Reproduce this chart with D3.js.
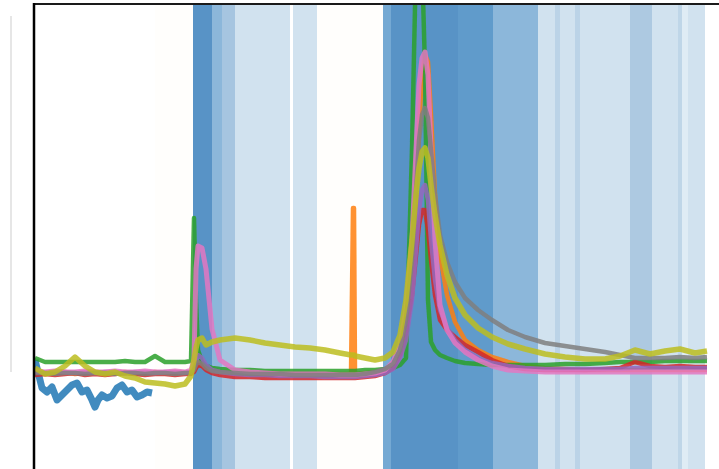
<!DOCTYPE html>
<html><head><meta charset="utf-8">
<script src="https://cdn.jsdelivr.net/npm/d3@7"></script>
<style>html,body{margin:0;padding:0;background:#fff;overflow:hidden}svg{display:block}</style>
</head><body>
<script>
// ---- data ----
const time = [0,10,20,30,40,50,60,70,80,90,100,110,120,130,140,150,
  156,159,161,163,167,171,177,185,
  200,215,230,245,260,275,290,305,
  316,318,319,320,
  330,340,350,358,
  365,371,377,381,384,387,390,393,396,400,405,412,420,430,443,457,473,490,
  510,530,550,570,585,600,615,630,645,660,672];

const blueTime = [0,3,7,12,17,22,27,32,37,42,47,52,57,60,63,67,72,77,82,87,92,97,102,107,112,117];
const blueVals = [0.9,-0.3,-1.9,-2.3,-1.8,-3.1,-2.6,-2.1,-1.6,-1.4,-2.3,-2.1,-3.1,-3.8,-3.1,-2.6,-2.9,-2.7,-1.9,-1.6,-2.3,-2.1,-2.8,-2.6,-2.3,-2.4];

const orangeVals = [-0.3,-0.5,-0.4,-0.3,-0.5,-0.4,-0.3,-0.5,-0.4,-0.3,-0.4,-0.5,-0.3,-0.4,-0.3,-0.4,
  -0.3,-0.1,0.3,0.7,0.4,0.1,-0.1,-0.3,
  -0.4,-0.4,-0.5,-0.5,-0.5,-0.5,-0.5,-0.5,
  -0.5,16.1,16.1,-0.5,
  -0.4,-0.3,-0.1,0.3,
  1.4,3.4,8.4,16.9,23.9,29.4,31.4,30.7,25.4,17.4,11.4,7.4,4.7,2.9,1.9,1.2,0.7,0.3,
  0.1,0,-0.1,-0.1,-0.1,-0.1,-0.1,-0.1,-0.1,-0.1,-0.1];

const greenVals = [1.1,0.7,0.7,0.7,0.7,0.7,0.7,0.7,0.7,0.8,0.7,0.7,1.3,0.7,0.7,0.7,
  0.8,15.1,6.9,1.9,0.7,0.3,0.1,0,
  -0.1,-0.1,-0.2,-0.2,-0.2,-0.2,-0.2,-0.2,
  -0.2,-0.2,-0.2,-0.2,
  -0.1,-0.1,0,0.1,
  0.4,1.1,22,40.9,40.9,40.9,30,6.9,2.7,1.9,1.4,1.1,0.8,0.6,0.5,0.4,0.4,0.4,
  0.4,0.5,0.5,0.6,0.7,0.7,0.7,0.8,0.8,0.8,0.8];

const redVals = [-0.6,-0.5,-0.6,-0.5,-0.4,-0.6,-0.5,-0.6,-0.5,-0.4,-0.5,-0.6,-0.5,-0.5,-0.6,-0.5,
  -0.5,-0.3,0.1,0.4,0.3,-0.1,-0.4,-0.6,
  -0.8,-0.8,-0.9,-0.9,-0.9,-0.9,-0.9,-0.9,
  -0.9,-0.9,-0.9,-0.9,
  -0.8,-0.7,-0.4,0.1,
  1.4,3.9,7.4,11.4,14.4,15.9,15.9,13.9,10.9,7.4,4.9,3.9,3.2,2.4,1.7,0.9,0.3,0,
  -0.1,-0.1,-0.1,0,0.1,0.7,0.3,0.2,0.3,0.2,0.2];

const purpleVals = [-0.3,-0.4,-0.3,-0.3,-0.4,-0.3,-0.4,-0.3,-0.3,-0.4,-0.3,-0.3,-0.4,-0.3,-0.3,-0.4,
  -0.3,0.1,0.9,1.4,1.1,0.4,-0.1,-0.3,
  -0.5,-0.6,-0.6,-0.7,-0.7,-0.7,-0.8,-0.8,
  -0.8,-0.8,-0.8,-0.8,
  -0.7,-0.6,-0.4,0,
  1.1,2.9,6.9,11.9,15.9,17.9,18.4,16.9,12.9,8.9,5.9,4.1,2.9,1.9,1.1,0.6,0.3,0.1,
  0,0,0,0,0,0.1,0.1,0.1,0.1,0.1,0.1];

const pinkVals = [-0.2,-0.3,-0.2,-0.3,-0.3,-0.2,-0.3,-0.3,-0.2,-0.3,-0.3,-0.2,-0.3,-0.3,-0.2,-0.3,
  -0.1,0.9,10.0,12.3,12.1,10.0,4.0,0.9,
  -0.1,-0.3,-0.4,-0.5,-0.5,-0.5,-0.5,-0.6,
  -0.6,-0.6,-0.6,-0.6,
  -0.5,-0.4,-0.1,0.7,
  2.4,5.9,12.9,21.9,28.4,31.1,31.7,29.4,21.9,12.9,6.4,3.9,2.6,1.7,0.9,0.3,-0.1,-0.2,
  -0.3,-0.3,-0.3,-0.3,-0.3,-0.3,-0.3,-0.3,-0.3,-0.3,-0.3];

const grayVals = [-0.4,-0.4,-0.5,-0.4,-0.4,-0.5,-0.4,-0.4,-0.5,-0.4,-0.4,-0.5,-0.4,-0.4,-0.5,-0.4,
  -0.4,-0.1,0.4,0.7,0.5,0.1,-0.2,-0.3,
  -0.4,-0.5,-0.5,-0.5,-0.6,-0.6,-0.6,-0.6,
  -0.6,-0.6,-0.6,-0.6,
  -0.5,-0.3,0,0.5,
  1.9,4.9,10.9,17.9,22.9,25.4,26.1,25.1,21.9,17.4,13.4,10.7,8.7,7.1,5.9,4.9,3.9,3.2,
  2.6,2.3,2.0,1.7,1.4,1.1,1.1,1.1,1.2,1.1,1.2];

const oliveVals = [0.1,-0.5,-0.3,0.3,1.2,0.3,-0.3,-0.5,-0.3,-0.7,-0.9,-1.3,-1.4,-1.5,-1.7,-1.5,
  -0.7,0.9,2.1,2.9,3.1,2.4,2.7,2.9,
  3.1,2.9,2.6,2.4,2.2,2.1,1.9,1.6,
  1.4,1.4,1.4,1.3,
  1.1,0.9,1.1,1.7,
  3.4,6.9,12.9,17.4,20.1,21.7,22.1,21.1,18.4,15.4,12.4,9.4,7.1,5.4,4.1,3.2,2.5,2.0,
  1.5,1.2,1.0,1.0,1.3,1.9,1.5,1.8,2.0,1.6,1.8];

// shaded event periods (start, end, intensity)
const bandStart = [158,177,187,200,258,348,356,423,458,503,520,525,540,545,595,617,643,647,653];
const bandEnd   = [177,187,200,255,282,356,423,458,503,520,525,540,545,595,617,643,647,653,670];
const bandLevel = [5,3,2.2,1,1,3.6,5,4.4,3,1,1.6,1,1.6,1,2,1,1.5,0.6,1];
const faintStart = [120,282];
const faintEnd   = [158,348];

// ---- drawing ----
const W = 719, H = 469;
const svg = d3.select("body").append("svg").attr("width", W).attr("height", H);
svg.append("rect").attr("width", W).attr("height", H).attr("fill", "#fff");

const x = d3.scaleLinear().domain([0, 700]).range([35, 735]);
const y = d3.scaleLinear().domain([-10, 36.5]).range([469, 4]);

const defs = svg.append("defs");
defs.append("clipPath").attr("id", "plot")
  .append("rect").attr("x", 35).attr("y", 5).attr("width", W - 35).attr("height", H - 5);
defs.append("filter").attr("id", "soft").attr("x", "-5%").attr("y", "-5%").attr("width", "110%").attr("height", "110%")
  .append("feGaussianBlur").attr("stdDeviation", 0.7);

const g = svg.append("g").attr("clip-path", "url(#plot)");

// faint bands
g.selectAll("rect.faint").data(faintStart.map((s, i) => [s, faintEnd[i]])).join("rect")
  .attr("class", "faint")
  .attr("x", d => x(d[0])).attr("width", d => x(d[1]) - x(d[0]))
  .attr("y", 0).attr("height", H).attr("fill", "#fffefc");

const shade = d3.scaleLinear().domain([1, 2, 3, 4, 5])
  .range(["#d1e2ef", "#adc9e1", "#8cb7da", "#65a0ce", "#5893c6"]);

g.selectAll("rect.band").data(bandStart.map((s, i) => [s, bandEnd[i], bandLevel[i]])).join("rect")
  .attr("class", "band")
  .attr("x", d => x(d[0])).attr("width", d => x(d[1]) - x(d[0]))
  .attr("y", 0).attr("height", H).attr("fill", d => shade(d[2]));

const line = d3.line().x(d => x(d[0])).y(d => y(d[1])).curve(d3.curveLinear);

const series = [
  {t: blueTime, v: blueVals, c: "#1f77b4", w: 7},
  {t: time, v: orangeVals, c: "#ff7f0e", w: 4.5},
  {t: time, v: greenVals, c: "#2ca02c", w: 4.5},
  {t: time, v: redVals, c: "#d62728", w: 4.5},
  {t: time, v: purpleVals, c: "#9467bd", w: 4.5},
  {t: time, v: pinkVals, c: "#e377c2", w: 5},
  {t: time, v: grayVals, c: "#7f7f7f", w: 4.5},
  {t: time, v: oliveVals, c: "#bcbd22", w: 5.5}
];

const lg = g.append("g").attr("filter", "url(#soft)");
series.forEach(s => {
  lg.append("path")
    .datum(s.t.map((t, i) => [t, s.v[i]]))
    .attr("d", line)
    .attr("fill", "none")
    .attr("stroke", s.c)
    .attr("stroke-width", s.w)
    .attr("stroke-opacity", 0.85)
    .attr("stroke-linejoin", "round");
});

// frame (top and left spines)
svg.append("line").attr("x1", 33).attr("x2", W).attr("y1", 4).attr("y2", 4)
  .attr("stroke", "#1a1a1a").attr("stroke-width", 2);
svg.append("line").attr("x1", 34).attr("x2", 34).attr("y1", 3).attr("y2", H)
  .attr("stroke", "#000").attr("stroke-width", 2.5);

// faint neighbouring axis line
svg.append("line").attr("x1", 11).attr("x2", 11).attr("y1", 16).attr("y2", 372)
  .attr("stroke", "#e6e6e6").attr("stroke-width", 2);
</script>
</body></html>
